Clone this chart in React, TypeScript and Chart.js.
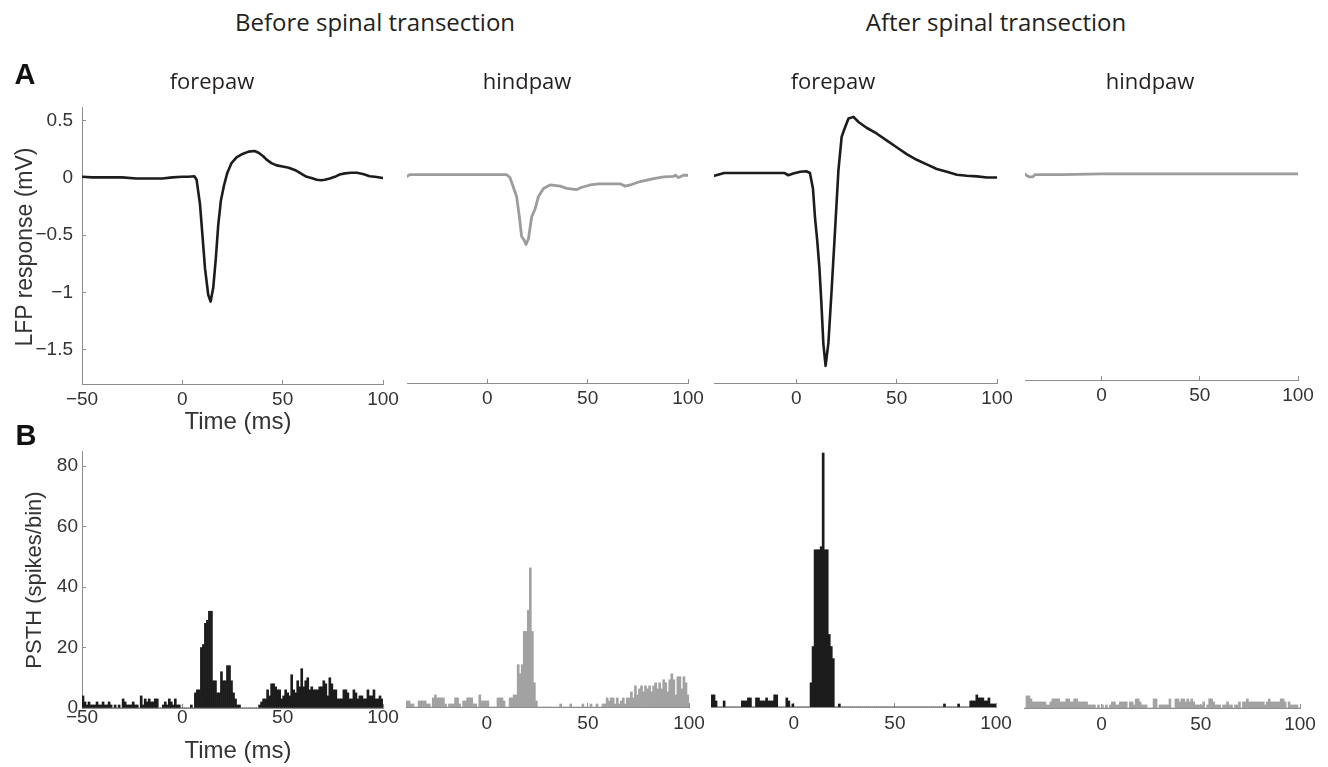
import React, { useEffect, useRef } from "react";
import { Chart, registerables } from "chart.js";
Chart.register(...registerables);

// ---------- LFP traces (time in ms, response in mV) ----------
const lfpForeBeforeT = [-50, -45, -40, -35, -30, -23, -20, -15, -10, -5, 0, 3, 6, 7.1, 8.8, 10, 11.3, 12.9, 14.1, 15.4, 16.7, 17.9, 19.2, 20.7, 22.4, 24.5, 27, 30, 33, 36, 38, 40.3, 42, 44.4, 47, 50, 53, 56, 58, 60, 62, 64.3, 67, 69.3, 71, 73.5, 76, 78.4, 81, 84, 87, 90, 93.4, 96, 100];
const lfpForeBeforeV = [0.01, 0.005, 0.005, 0.005, 0.005, -0.005, -0.005, -0.005, -0.005, 0.005, 0.01, 0.01, 0.015, -0.015, -0.23, -0.495, -0.79, -1.02, -1.08, -0.96, -0.7, -0.41, -0.2, -0.07, 0.044, 0.13, 0.18, 0.21, 0.23, 0.235, 0.22, 0.19, 0.16, 0.13, 0.11, 0.1, 0.09, 0.07, 0.05, 0.03, 0.01, 0.0, -0.015, -0.02, -0.015, -0.005, 0.01, 0.03, 0.04, 0.045, 0.045, 0.035, 0.015, 0.01, 0.0];

const lfpHindBeforeT = [-40, -38.6, -30, -20, -10, 0, 9.7, 11.3, 13, 14.6, 16, 17.1, 18.3, 19.3, 20.5, 22.1, 23.8, 25.5, 28, 31.3, 36.3, 39.6, 44.6, 47.1, 51.2, 55.4, 60, 66.2, 68.7, 71.2, 76.2, 82.9, 87.9, 92.8, 93.7, 95.3, 97.8, 100];
const lfpHindBeforeV = [0.005, 0.02, 0.02, 0.02, 0.02, 0.02, 0.02, -0.005, -0.09, -0.17, -0.35, -0.52, -0.55, -0.59, -0.54, -0.35, -0.28, -0.17, -0.1, -0.07, -0.08, -0.1, -0.11, -0.09, -0.07, -0.06, -0.06, -0.06, -0.08, -0.07, -0.04, -0.015, 0.0, 0.005, 0.015, -0.005, 0.015, 0.015];

const lfpForeAfterT = [-41, -39, -36, -30, -20, -10, -6, -4, -1.5, 2, 5, 6.8, 8.3, 9.3, 10.4, 11.5, 12.5, 13.5, 14.6, 16, 17.6, 19.3, 21, 22.6, 23.8, 26, 28.5, 31, 35, 40, 45, 50, 55, 60, 65, 70, 75, 80, 85, 90, 95, 100];
const lfpForeAfterV = [0.01, 0.02, 0.035, 0.035, 0.035, 0.035, 0.035, 0.015, 0.03, 0.045, 0.05, 0.035, -0.1, -0.35, -0.55, -0.79, -1.1, -1.46, -1.65, -1.45, -0.99, -0.47, 0.06, 0.35, 0.41, 0.51, 0.525, 0.48, 0.43, 0.38, 0.32, 0.26, 0.2, 0.15, 0.11, 0.07, 0.045, 0.02, 0.01, 0.005, -0.005, -0.005];

const lfpHindAfterT = [-39, -38, -37, -35, -34, -30, -20, 0, 20, 50, 75, 100];
const lfpHindAfterV = [0.0, -0.015, -0.025, -0.025, -0.005, -0.005, -0.005, 0.0, 0.0, 0.0, 0.0, 0.0];

// ---------- PSTH (spikes per 1-ms bin) ----------
const psthForeBeforeStart = -50;
const psthForeBefore = [
  4, 2, 1, 2, 1, 1, 1, 2, 1, 1,
  2, 1, 1, 2, 1, 0, 1, 0, 1, 0,
  3, 2, 1, 1, 1, 2, 1, 1, 0, 4,
  1, 3, 2, 3, 2, 2, 3, 3, 0, 0,
  1, 2, 1, 3, 2, 1, 3, 1, 1, 0,
  0, 0, 0, 0, 1, 0, 5, 6, 6, 20,
  21, 28, 29, 32, 32, 9, 9, 5, 5, 12,
  9, 9, 14, 14, 9, 5, 3, 1, 1, 0,
  0, 0, 0, 0, 0, 0, 0, 0, 1, 2,
  3, 3, 6, 4, 8, 8, 7, 6, 6, 3,
  4, 6, 5, 4, 11, 6, 5, 9, 7, 13,
  7, 9, 10, 6, 7, 6, 6, 6, 7, 7,
  9, 8, 4, 10, 8, 6, 6, 3, 3, 3,
  6, 6, 5, 3, 3, 6, 5, 3, 4, 4,
  3, 3, 6, 4, 4, 6, 3, 3, 4, 3,
];

const psthHindBeforeStart = -40;
const psthHindBefore = [
  2, 2, 1, 1, 0, 0, 2, 2, 2, 2,
  1, 1, 0, 3, 4, 3, 3, 3, 3, 1,
  0, 1, 1, 1, 3, 3, 1, 0, 2, 2,
  3, 3, 3, 1, 1, 0, 4, 2, 2, 2,
  2, 0, 0, 0, 0, 3, 3, 3, 2, 0,
  0, 3, 3, 4, 4, 14, 11, 14, 25, 25,
  32, 46, 25, 8, 2, 0, 0, 0, 0, 0,
  0, 0, 0, 0, 0, 0, 1, 0, 0, 0,
  0, 1, 0, 0, 0, 0, 0, 1, 0, 0,
  0, 1, 0, 0, 1, 0, 0, 1, 1, 3,
  2, 3, 3, 1, 3, 1, 2, 3, 1, 3,
  3, 5, 3, 7, 4, 6, 7, 5, 7, 6,
  7, 5, 7, 8, 6, 8, 6, 9, 8, 5,
  9, 11, 9, 4, 10, 10, 6, 10, 8, 4,
];

const psthForeAfterStart = -41;
const psthForeAfter = [
  4, 4, 2, 0, 0, 0, 2, 0, 0, 0,
  0, 0, 0, 0, 0, 2, 2, 2, 3, 3,
  0, 0, 3, 3, 2, 2, 2, 3, 2, 2,
  2, 4, 4, 0, 0, 0, 0, 3, 2, 0,
  1, 0, 0, 0, 0, 0, 0, 0, 0, 8,
  20, 52, 52, 52, 53, 84, 52, 52, 24, 20,
  16, 0, 0, 1, 0, 0, 0, 0, 0, 0,
  0, 0, 0, 0, 0, 0, 0, 0, 0, 0,
  0, 0, 0, 0, 0, 0, 0, 0, 0, 0,
  0, 0, 0, 0, 0, 0, 0, 0, 0, 0,
  0, 0, 0, 0, 0, 0, 0, 0, 0, 0,
  0, 0, 0, 0, 0, 1, 0, 0, 0, 0,
  0, 0, 1, 0, 0, 0, 0, 0, 2, 2,
  2, 4, 3, 3, 3, 2, 2, 3, 1, 1,
  1,
];

const psthHindAfterStart = -39;
const psthHindAfter = [
  0, 4, 4, 3, 2, 2, 2, 2, 2, 2,
  2, 1, 1, 2, 3, 3, 3, 3, 2, 2,
  2, 3, 3, 2, 2, 3, 3, 2, 2, 2,
  2, 2, 1, 1, 1, 1, 0, 1, 0, 1,
  0, 1, 0, 1, 2, 2, 1, 1, 2, 2,
  2, 2, 0, 2, 2, 1, 3, 3, 2, 1,
  1, 1, 0, 0, 0, 3, 3, 0, 1, 1,
  1, 1, 1, 3, 0, 0, 3, 3, 2, 3,
  3, 2, 3, 2, 3, 2, 1, 1, 1, 1,
  2, 0, 1, 3, 3, 2, 1, 1, 1, 0,
  1, 1, 2, 1, 1, 0, 1, 1, 2, 0,
  2, 2, 3, 2, 2, 2, 2, 2, 2, 2,
  2, 1, 2, 3, 2, 2, 2, 2, 2, 3,
  3, 2, 0, 2, 1, 1, 1, 1, 0,
];

// ---------- ticks ----------
const timeTicksFull = [-50, 0, 50, 100];
const timeTicks = [0, 50, 100];
const lfpTicks = [-1.5, -1, -0.5, 0, 0.5];
const psthTicks = [0, 20, 40, 60, 80];

const BLACK = "#1c1c1c";
const GREY = "#9c9c9c";
const BAR_GREY = "#a2a2a2";
const AXIS = "#8d8d8d";
const TICK_TEXT = "#333333";
const tickFont = { family: "'Liberation Sans', Arial, sans-serif", size: 19 };
const MINUS = "\u2212";
const fmt = (v: number) => (v < 0 ? MINUS + String(Math.abs(v)) : String(v));

type Cfg = {
  kind: "line" | "bar";
  area: [number, number, number, number];
  xMin: number; xMax: number; xTicks: number[]; xPad: number;
  yMin: number; yMax: number; yTicks?: number[]; yPad?: number; yW?: number;
  t?: number[]; v?: number[];
  bins?: number[]; start?: number;
  color: string; width?: number;
};

const PAD_L = 10, PAD_R = 30, PAD_T = 30, X_H = 40;

function buildConfig(cfg: Cfg): any {
  const xScale: any = {
    type: "linear", min: cfg.xMin, max: cfg.xMax, offset: false,
    afterBuildTicks: (s: any) => { s.ticks = cfg.xTicks.map((v) => ({ value: v })); },
    afterFit: (s: any) => { s.height = X_H; },
    grid: { display: true, offset: false, drawOnChartArea: false, drawTicks: true, tickLength: -4, tickColor: AXIS, tickWidth: 1 },
    border: { display: true, color: AXIS, width: 1 },
    ticks: { autoSkip: false, maxRotation: 0, minRotation: 0, padding: cfg.xPad, color: TICK_TEXT, font: tickFont, callback: (v: any) => fmt(Number(v)) },
  };
  const yScale: any = cfg.yTicks
    ? {
        type: "linear", min: cfg.yMin, max: cfg.yMax,
        afterBuildTicks: (s: any) => { s.ticks = (cfg.yTicks as number[]).map((v) => ({ value: v })); },
        afterFit: (s: any) => { s.width = cfg.yW as number; },
        grid: { display: true, drawOnChartArea: false, drawTicks: true, tickLength: -4, tickColor: AXIS, tickWidth: 1 },
        border: { display: true, color: AXIS, width: 1 },
        ticks: { padding: cfg.yPad, color: TICK_TEXT, font: tickFont, callback: (v: any) => fmt(Number(v)) },
      }
    : { type: "linear", display: false, min: cfg.yMin, max: cfg.yMax };

  let data: any;
  if (cfg.kind === "line") {
    const t = cfg.t as number[];
    const v = cfg.v as number[];
    data = {
      datasets: [{
        data: t.map((x, i) => ({ x, y: v[i] })),
        borderColor: cfg.color, borderWidth: cfg.width ?? 2.6, pointRadius: 0, tension: 0,
        borderJoinStyle: "round", borderCapStyle: "round", fill: false,
      }],
    };
  } else {
    const bins = cfg.bins as number[];
    const start = cfg.start as number;
    data = {
      datasets: [{
        data: bins.map((y, i) => ({ x: start + i + 0.5, y })),
        backgroundColor: cfg.color, borderWidth: 0, barPercentage: 1, categoryPercentage: 1,
      }],
    };
  }
  return {
    type: cfg.kind,
    data,
    options: {
      animation: false, responsive: false, maintainAspectRatio: false, events: [],
      layout: { padding: { left: PAD_L, right: PAD_R, top: PAD_T, bottom: 0 } },
      plugins: { legend: { display: false }, tooltip: { enabled: false } },
      scales: { x: xScale, y: yScale },
    },
  };
}

function Panel({ cfg }: { cfg: Cfg }) {
  const ref = useRef<HTMLCanvasElement>(null);
  useEffect(() => {
    const chart = new Chart(ref.current as HTMLCanvasElement, buildConfig(cfg));
    return () => chart.destroy();
  }, []);
  const yW = cfg.yTicks ? (cfg.yW as number) : 0;
  const [L, T, R, B] = cfg.area;
  const left = L - yW - PAD_L;
  const top = T - PAD_T;
  const w = PAD_L + yW + (R - L) + PAD_R;
  const h = PAD_T + (B - T) + X_H;
  return <canvas ref={ref} width={w} height={h} style={{ position: "absolute", left, top, width: w, height: h }} />;
}

const LFP_MIN = -1.8, LFP_MAX = 0.62, PSTH_MIN = 0, PSTH_MAX = 85;

const panels: Cfg[] = [
  { kind: "line", area: [82, 107, 383, 384], xMin: -50, xMax: 100, xTicks: timeTicksFull, xPad: 8, yMin: LFP_MIN, yMax: LFP_MAX, yTicks: lfpTicks, yPad: 13, yW: 60, t: lfpForeBeforeT, v: lfpForeBeforeV, color: BLACK },
  { kind: "line", area: [407, 106, 688, 383], xMin: -40, xMax: 100, xTicks: timeTicks, xPad: 8, yMin: LFP_MIN, yMax: LFP_MAX, t: lfpHindBeforeT, v: lfpHindBeforeV, color: GREY, width: 2.8 },
  { kind: "line", area: [714, 106, 997, 383], xMin: -41, xMax: 100, xTicks: timeTicks, xPad: 8, yMin: LFP_MIN, yMax: LFP_MAX, t: lfpForeAfterT, v: lfpForeAfterV, color: BLACK },
  { kind: "line", area: [1025, 103, 1298, 380], xMin: -39, xMax: 100, xTicks: timeTicks, xPad: 8, yMin: LFP_MIN, yMax: LFP_MAX, t: lfpHindAfterT, v: lfpHindAfterV, color: GREY, width: 2.8 },
  { kind: "bar", area: [82, 451, 383, 708], xMin: -50, xMax: 100, xTicks: timeTicksFull, xPad: 2, yMin: PSTH_MIN, yMax: PSTH_MAX, yTicks: psthTicks, yPad: 8, yW: 60, bins: psthForeBefore, start: psthForeBeforeStart, color: BLACK },
  { kind: "bar", area: [406, 450, 689, 707], xMin: -40, xMax: 100, xTicks: timeTicks, xPad: 9, yMin: PSTH_MIN, yMax: PSTH_MAX, bins: psthHindBefore, start: psthHindBeforeStart, color: BAR_GREY },
  { kind: "bar", area: [711, 450, 996, 707], xMin: -41, xMax: 100, xTicks: timeTicks, xPad: 9, yMin: PSTH_MIN, yMax: PSTH_MAX, bins: psthForeAfter, start: psthForeAfterStart, color: BLACK },
  { kind: "bar", area: [1024, 451, 1300, 708], xMin: -39, xMax: 100, xTicks: timeTicks, xPad: 9, yMin: PSTH_MIN, yMax: PSTH_MAX, bins: psthHindAfter, start: psthHindAfterStart, color: BAR_GREY },
];

const humanist = "'Open Sans', 'Noto Sans', sans-serif";
const helv = "'Liberation Sans', Arial, sans-serif";

function Label({ text, x, y, size, font, bold, rotate, color }: { text: string; x: number; y: number; size: number; font: string; bold?: boolean; rotate?: boolean; color?: string }) {
  return (
    <div
      style={{
        position: "absolute", left: x, top: y, whiteSpace: "nowrap", lineHeight: 1,
        fontFamily: font, fontSize: size, fontWeight: bold ? 700 : 400, color: color ?? "#231f20",
        transform: `translate(-50%, -50%)${rotate ? " rotate(-90deg)" : ""}`,
      }}
    >
      {text}
    </div>
  );
}

export default function App() {
  return (
    <div style={{ position: "absolute", left: 0, top: 0, width: 1328, height: 767, background: "#ffffff", overflow: "hidden" }}>
      {panels.map((p, i) => <Panel key={i} cfg={p} />)}
      <Label text="Before spinal transection" x={375} y={22} size={24} font={humanist} />
      <Label text="After spinal transection" x={996} y={22} size={24} font={humanist} />
      <Label text="forepaw" x={212} y={80} size={22} font={humanist} />
      <Label text="hindpaw" x={527} y={80} size={22} font={humanist} />
      <Label text="forepaw" x={833} y={80} size={22} font={humanist} />
      <Label text="hindpaw" x={1150} y={80} size={22} font={humanist} />
      <Label text="A" x={25} y={74} size={29} font={helv} bold color="#111" />
      <Label text="B" x={26} y={435} size={29} font={helv} bold color="#111" />
      <Label text="LFP response (mV)" x={24} y={247} size={23} font={helv} rotate color="#333" />
      <Label text="PSTH (spikes/bin)" x={34} y={580} size={22} font={helv} rotate color="#333" />
      <Label text="Time (ms)" x={238} y={421} size={24} font={helv} color="#333" />
      <Label text="Time (ms)" x={238} y={750} size={24} font={helv} color="#333" />
    </div>
  );
}
